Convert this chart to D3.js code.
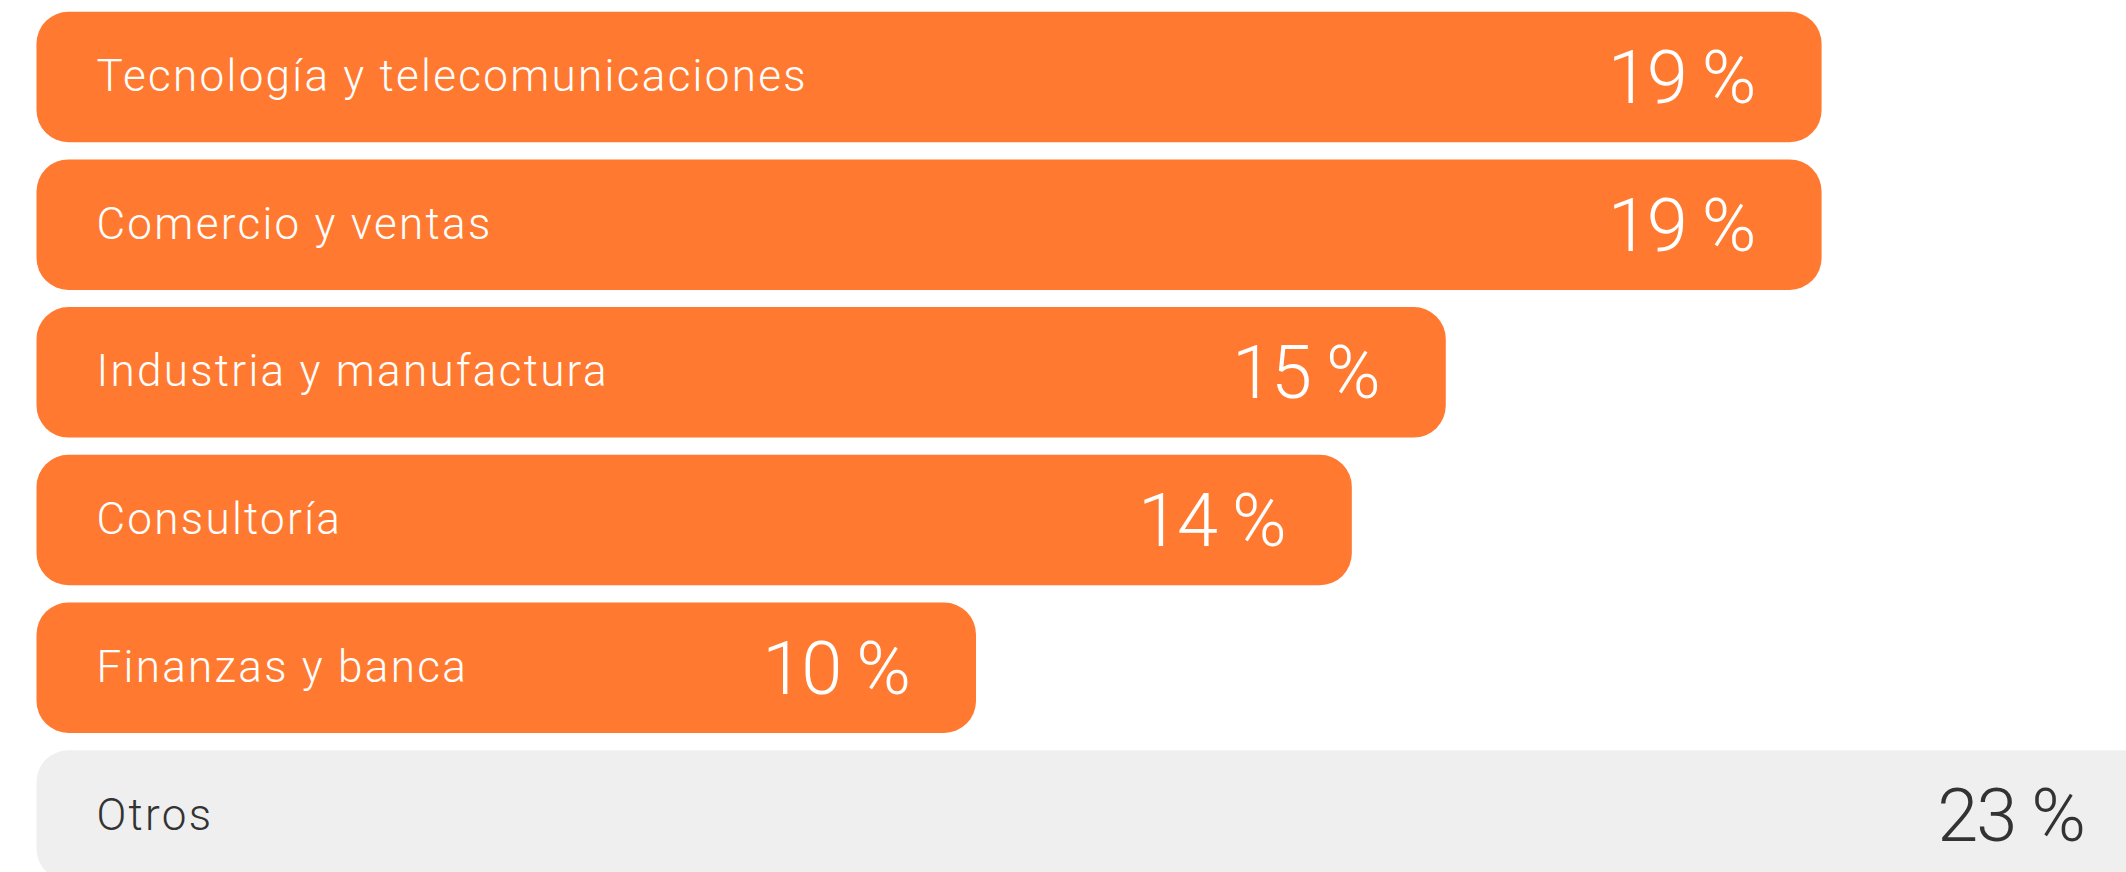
<!DOCTYPE html>
<html>
<head>
<meta charset="utf-8">
<script src="https://cdn.jsdelivr.net/npm/d3@7"></script>
<style>
  html, body { margin: 0; padding: 0; background: #ffffff; overflow: hidden; }
  svg { display: block; }
</style>
</head>
<body>
<svg id="chart" width="2126" height="872"></svg>
<script>
const categories = [
  "Tecnología y telecomunicaciones",
  "Comercio y ventas",
  "Industria y manufactura",
  "Consultoría",
  "Finanzas y banca",
  "Otros"
];
const values = [19, 19, 15, 14, 10, 23];
const valueLabels = ["19 %", "19 %", "15 %", "14 %", "10 %", "23 %"];
const highlighted = [true, true, true, true, true, false];

const W = 2126, H = 872;
const svg = d3.select("#chart");

const x = d3.scaleLinear().domain([0, 23]).range([36.5, 2197.4]);
const y = d3.scaleBand()
  .domain(categories)
  .range([3.1, 889.3])
  .paddingInner(0.1165)
  .paddingOuter(0.0583);

const data = categories.map((c, i) => ({ c, v: values[i], lab: valueLabels[i], hi: highlighted[i] }));

const g = svg.selectAll("g.row").data(data).join("g").attr("class", "row");

g.append("rect")
  .attr("x", x(0))
  .attr("y", d => y(d.c))
  .attr("width", d => x(d.v) - x(0))
  .attr("height", y.bandwidth())
  .attr("rx", 32).attr("ry", 32)
  .attr("fill", d => d.hi ? "#FF7A30" : "#EFEFEF");

g.append("text")
  .attr("x", x(0) + 60)
  .attr("y", d => y(d.c) + y.bandwidth() / 2)
  .attr("dy", "0.32em")
  .attr("font-family", "Roboto, 'Open Sans', sans-serif")
  .attr("font-weight", 300)
  .attr("font-size", 44)
  .attr("letter-spacing", 2.3)
  .attr("fill", d => d.hi ? "#FFFFFF" : "#333333")
  .text(d => d.c);

g.append("text")
  .attr("x", d => Math.min(x(d.v) - 67, W - 42))
  .attr("y", d => y(d.c) + y.bandwidth() / 2)
  .attr("dy", "0.35em")
  .attr("text-anchor", "end")
  .attr("font-family", "Roboto, 'Open Sans', sans-serif")
  .attr("font-weight", 300)
  .attr("font-size", 74)
  .attr("letter-spacing", -2)
  .attr("fill", d => d.hi ? "#FFFFFF" : "#333333")
  .text(d => d.lab);
</script>
</body>
</html>
